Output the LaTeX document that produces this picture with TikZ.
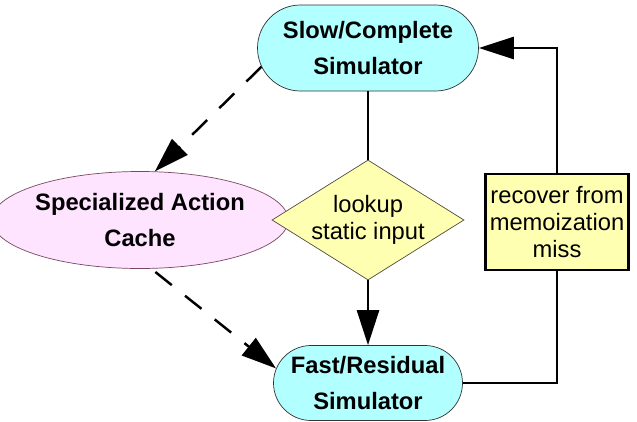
\documentclass[tikz,border=0pt]{standalone}
\usepackage{fontspec}
\setmainfont{Liberation Sans}
\usepackage{tikz}
\usetikzlibrary{arrows.meta}
\usetikzlibrary{shapes.geometric,shapes.misc}

\definecolor{simcyan}{RGB}{178,255,255}
\definecolor{cachepink}{RGB}{255,228,255}
\definecolor{noteyellow}{RGB}{255,255,178}

\tikzset{
  sim/.style={rounded rectangle, draw=black!80, fill=simcyan, align=center,
    font=\fontsize{13.5}{21}\selectfont\bfseries, inner sep=0pt},
  flow/.style={line width=1.5pt},
  hint/.style={line width=1.4pt, dash pattern=on 0.42cm off 0.34cm},
  bigtip/.style={-{Triangle[length=7mm,width=4.4mm]}}
}

\begin{document}
\begin{tikzpicture}
    \useasboundingbox (0, 0) rectangle (12.74, 8.42);

    % Nodes
    \node [sim, minimum width=4.42cm, minimum height=1.72cm] (slow) at (7.36, 7.46) {Slow/Complete\\Simulator};
    \node [sim, minimum width=3.78cm, minimum height=1.5cm] (fast) at (7.36, 0.76) {Fast/Residual\\Simulator};
    \node [ellipse, draw=black!60!magenta, fill=cachepink, align=center, inner sep=0pt,
      minimum width=5.06cm, minimum height=1.94cm, font=\fontsize{13.5}{21}\selectfont\bfseries]
      (cache) at (2.8, 4.02) {Specialized Action\\Cache};
    \node [diamond, draw=black!80!yellow, fill=noteyellow, align=center, shape aspect=1.6,
      inner sep=-1pt, minimum width=3.84cm, minimum height=2.4cm, font=\fontsize{13.5}{15.5}\selectfont]
      (lookup) at (7.36, 4.02) {lookup\\static input};
    \node [rectangle, draw, line width=1.4pt, fill=noteyellow, align=center, inner sep=0pt,
      minimum width=2.86cm, minimum height=1.92cm, font=\fontsize{13.5}{15.5}\selectfont]
      (recover) at (11.14, 3.98) {recover from\\memoization\\miss};

    % Connectors
    \draw [flow] (slow.south) -- (lookup.north);
    \draw [flow, bigtip] (lookup.south) -- (fast.north);
    \draw [flow] (fast.east) -| (recover.south);
    \draw [flow, bigtip] (recover.north) |- (slow.east);
    \draw [hint, bigtip] (slow.190) -- (cache.73);
    \draw [hint, bigtip, shorten <=3pt] (cache.-77) -- (fast.171);
  \end{tikzpicture}
\end{document}
